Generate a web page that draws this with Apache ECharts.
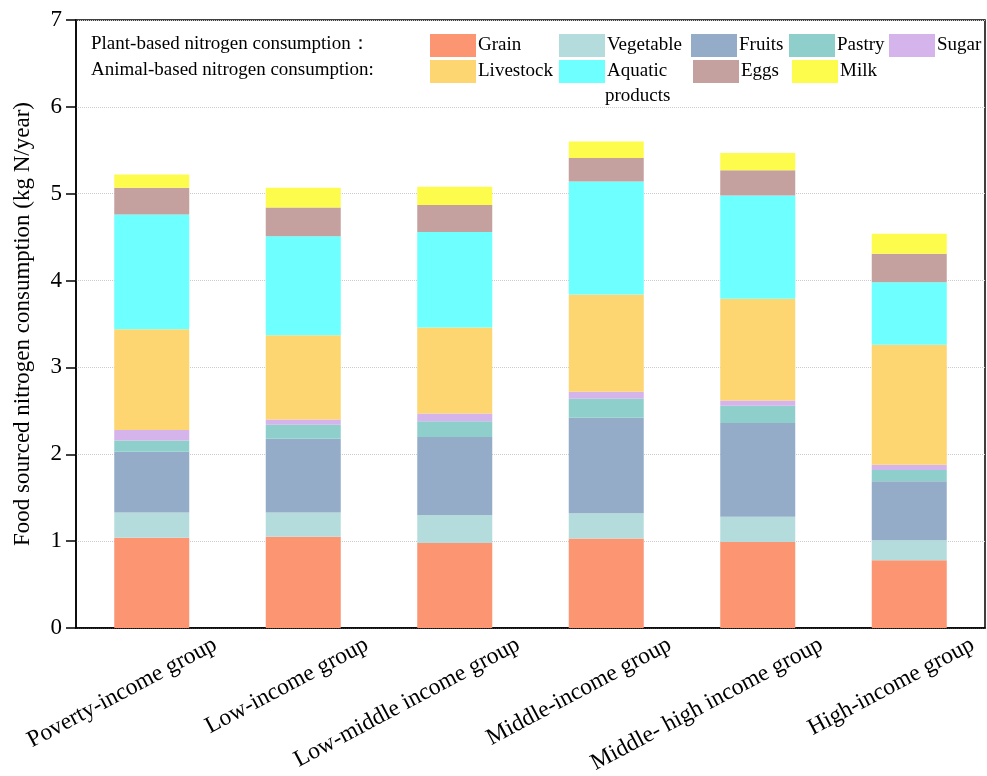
<!DOCTYPE html>
<html>
<head>
<meta charset="utf-8">
<script src="https://cdn.jsdelivr.net/npm/echarts@6/dist/echarts.min.js"></script>
<style>
html,body{margin:0;padding:0;background:#fff;}
#chart{width:987px;height:776px;}
</style>
</head>
<body>
<div id="chart"></div>
<script>
const categories = ['Poverty-income group', 'Low-income group', 'Low-middle income group', 'Middle-income group', 'Middle- high income group', 'High-income group'];
const grain     = [1.04, 1.05, 0.98, 1.03, 0.99, 0.78];
const vegetable = [0.29, 0.28, 0.32, 0.29, 0.29, 0.23];
const fruits    = [0.70, 0.85, 0.90, 1.10, 1.08, 0.68];
const pastry    = [0.13, 0.16, 0.18, 0.22, 0.20, 0.13];
const sugar     = [0.12, 0.06, 0.09, 0.08, 0.06, 0.06];
const livestock = [1.16, 0.97, 0.99, 1.12, 1.17, 1.38];
const aquatic   = [1.32, 1.14, 1.10, 1.30, 1.19, 0.72];
const eggs      = [0.31, 0.33, 0.31, 0.27, 0.29, 0.33];
const milk      = [0.15, 0.23, 0.21, 0.19, 0.20, 0.23];
const seriesNames = ['Grain', 'Vegetable', 'Fruits', 'Pastry', 'Sugar', 'Livestock', 'Aquatic products', 'Eggs', 'Milk'];
const seriesData = [grain, vegetable, fruits, pastry, sugar, livestock, aquatic, eggs, milk];
const colors = ['#FB9572', '#B4DCDD', '#94ACC8', '#8FCFCB', '#D5B3EB', '#FDD671', '#6EFFFF', '#C4A09E', '#FDFC4C'];
const yTicks = [0, 1, 2, 3, 4, 5, 6, 7];

const FONT = 'Liberation Serif';
const legendPos = [
  [430, 34], [559, 34], [691, 34], [789, 34], [889, 34],
  [430, 60], [559, 60], [693, 60], [792, 60]
];

const legends = seriesNames.map(function (name, i) {
  const isAq = name === 'Aquatic products';
  return {
    data: [name],
    left: legendPos[i][0],
    top: legendPos[i][1],
    padding: 0,
    itemWidth: 46,
    itemHeight: 23,
    itemGap: 0,
    selectedMode: false,
    icon: 'rect',
    formatter: isAq ? 'Aquatic' : '{name}',
    textStyle: { fontFamily: FONT, fontSize: 19, color: '#000', padding: [0, 0, 0, -3] }
  };
});

const textStyleBase = { fontFamily: FONT, fontSize: 19, fontWeight: 'normal', color: '#000' };

const chart = echarts.init(document.getElementById('chart'));
chart.setOption({
  animation: false,
  backgroundColor: '#fff',
  color: colors,
  title: [
    { text: 'Plant-based nitrogen consumption：', left: 91, top: 35, padding: 0, textStyle: textStyleBase },
    { text: 'Animal-based nitrogen consumption:', left: 91, top: 61, padding: 0, textStyle: textStyleBase },
    { text: 'products', left: 605, top: 87, padding: 0, textStyle: textStyleBase }
  ],
  legend: legends,
  grid: {
    left: 76, right: 2, top: 20, bottom: 148,
    outerBoundsMode: 'none', containLabel: false,
    show: true, borderColor: '#000', borderWidth: 1.5, backgroundColor: 'transparent'
  },
  xAxis: {
    type: 'category',
    data: categories,
    axisLine: { lineStyle: { color: '#000', width: 1.5 } },
    axisTick: { alignWithLabel: true, length: 10, lineStyle: { color: '#000', width: 1.5 } },
    axisLabel: {
      interval: 0, rotate: 28, margin: 49, color: '#000',
      fontFamily: FONT, fontSize: 23.5, padding: [0, -72, 0, 0]
    }
  },
  yAxis: {
    type: 'value',
    min: 0, max: 7, interval: 1,
    name: 'Food sourced nitrogen consumption (kg N/year)',
    nameLocation: 'middle',
    nameGap: 42,
    nameTextStyle: { fontFamily: FONT, fontSize: 23, color: '#000' },
    axisLine: { show: true, lineStyle: { color: '#000', width: 1.5 } },
    axisTick: { show: true, length: 10, lineStyle: { color: '#000', width: 1.5 } },
    axisLabel: { color: '#000', fontFamily: FONT, fontSize: 23, margin: 14,
      formatter: function (v) { return yTicks.indexOf(v) >= 0 ? String(v) : ''; } },
    splitLine: { show: true, lineStyle: { color: '#cccccc', type: 'dotted', width: 1 } }
  },
  series: seriesNames.map(function (name, i) {
    return {
      name: name,
      type: 'bar',
      stack: 'total',
      barWidth: 75,
      data: seriesData[i],
      itemStyle: { color: colors[i] },
      emphasis: { disabled: true }
    };
  })
});
</script>
</body>
</html>
